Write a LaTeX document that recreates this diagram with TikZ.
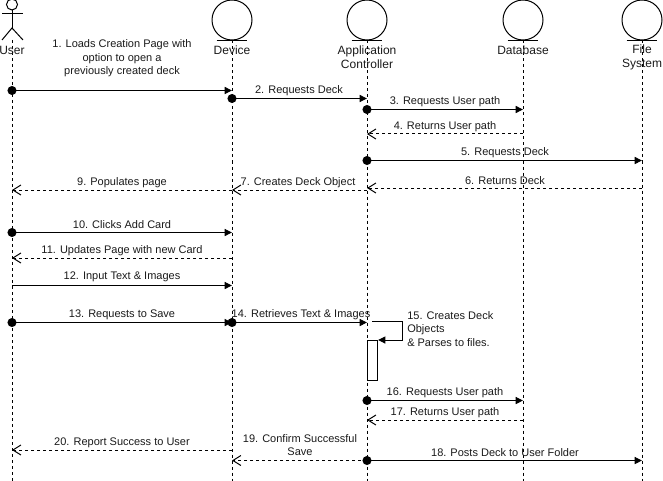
\documentclass[tikz,border=0pt]{standalone}
\usepackage{fontspec}
\setmainfont{Liberation Sans}
\usetikzlibrary{arrows.meta}
\definecolor{inkline}{HTML}{000000}
\definecolor{inktext}{HTML}{1A1A1A}
\tikzset{
  bound/.style={circle,draw=inkline,line width=.75pt,minimum size=30pt,inner sep=0pt},
  headlabel/.style={align=center,inner sep=0pt,text=inktext,font=\fontsize{9}{10.6}\selectfont},
  msglabel/.style={align=center,inner sep=0pt,text=inktext,font=\fontsize{8.25}{10.1}\selectfont},
  life/.style={draw=inkline,line width=.75pt,dash pattern=on 2.25pt off 2.25pt},
  msgdot/.style={circle,fill=inkline,minimum size=6.8pt,inner sep=0pt},
  msg/.style={draw=inkline,line width=.75pt,-{Triangle[length=5.6pt,width=5.4pt]}},
  back/.style={draw=inkline,line width=.75pt,dash pattern=on 2.25pt off 2.25pt,-{Straight Barb[length=6pt,width=7.5pt]}},
}
\begin{document}
\begin{tikzpicture}[x=.75pt,y=-.75pt]
  \useasboundingbox (0,0) rectangle (663,481);
  % heads
  \node[bound] (device) at (232,20) {};
  \node[bound] (appctl) at (367,20) {};
  \node[bound] (dbase) at (523,20) {};
  \node[bound] (fsys) at (642,20) {};
  \coordinate (user) at (12,40);
  \draw[line width=.75pt] (12,4.5) circle (5.5);
  \draw[line width=.75pt] (12,10)--(12,28);
  \draw[line width=.75pt] (2,14)--(23,14);
  \draw[line width=.75pt] (2,40)--(12,28)--(23,40);
  \draw[line width=.75pt] ([xshift=-11.6pt]device.south)--([xshift=11.6pt]device.south);
  \draw[line width=.75pt] ([xshift=-11.6pt]appctl.south)--([xshift=11.6pt]appctl.south);
  \draw[line width=.75pt] ([xshift=-11.6pt]dbase.south)--([xshift=11.6pt]dbase.south);
  \draw[line width=.75pt] ([xshift=-11.6pt]fsys.south)--([xshift=11.6pt]fsys.south);
  % lifelines
  \coordinate (userend) at (12,481);
  \coordinate (deviceend) at (232,481);
  \coordinate (appctlend) at (367,481);
  \coordinate (dbaseend) at (523,481);
  \coordinate (fsysend) at (642,481);
  \draw[life] (user)--(userend);
  \draw[life] (device.south)--(deviceend);
  \draw[life] (appctl.south)--(appctlend);
  \draw[life] (dbase.south)--(dbaseend);
  \draw[life] (fsys.south)--(fsysend);
  \node[headlabel] (tuser) at (12,50) {User};
  \node[headlabel] (tdevice) at (232,50) {Device};
  \node[headlabel] (tappctl) at (367,57) {Application\\Controller};
  \node[headlabel] (tdbase) at (523,50) {Database};
  \node[headlabel] (tfsys) at (642,57) {File\\System};
  % dots
  \node[msgdot] (d1) at (12,90.5) {};
  \node[msgdot] (d2) at (232,98.5) {};
  \node[msgdot] (d3) at (367,109.5) {};
  \node[msgdot] (d5) at (367,160.5) {};
  \node[msgdot] (d10) at (12,232.5) {};
  \node[msgdot] (d13) at (12,322.5) {};
  \node[msgdot] (d14) at (232,322.5) {};
  \node[msgdot] (d16) at (367,400.5) {};
  \node[msgdot] (d18) at (367,460.5) {};
  % free ends
  \coordinate (e1) at (232,90.5);
  \coordinate (e2) at (367,98.5);
  \coordinate (e3) at (523,109.5);
  \coordinate (s4) at (523,134);
  \coordinate (e4) at (367,134);
  \coordinate (e5) at (642,160.5);
  \coordinate (s6) at (642,188);
  \coordinate (e6) at (367,188);
  \coordinate (s7) at (367,190);
  \coordinate (e7) at (232,190);
  \coordinate (s9) at (232,190);
  \coordinate (e9) at (12,190);
  \coordinate (e10) at (232,232.5);
  \coordinate (s11) at (232,258);
  \coordinate (e11) at (12,258);
  \coordinate (s12) at (12,285.5);
  \coordinate (e12) at (232,285.5);
  \coordinate (e13) at (232,322.5);
  \coordinate (e14) at (367,322.5);
  \coordinate (s15) at (372,321);
  \coordinate (e15) at (378,340);
  \coordinate (e16) at (523,400.5);
  \coordinate (s17) at (523,420);
  \coordinate (e17) at (367,420);
  \coordinate (e18) at (642,460.5);
  \coordinate (e19) at (232,460.5);
  \coordinate (s20) at (232,450);
  \coordinate (e20) at (12,450);
  % activation
  \node[draw=inkline,line width=.75pt,fill=white,minimum width=7.5pt,minimum height=30pt,inner sep=0pt] (actbox) at (372,360) {};
  % messages
  \draw[msg] (d1.center)--(e1);
  \draw[msg] (d2.center)--(e2);
  \draw[msg] (d3.center)--(e3);
  \draw[back] (s4)--(e4);
  \draw[msg] (d5.center)--(e5);
  \draw[back] (s6)--(e6);
  \draw[back] (s7)--(e7);
  \draw[back] (s9)--(e9);
  \draw[msg] (d10.center)--(e10);
  \draw[back] (s11)--(e11);
  \draw[msg] (s12)--(e12);
  \draw[msg] (d13.center)--(e13);
  \draw[msg] (d14.center)--(e14);
  \draw[msg] (s15)--(402,321)--(402,340)--(e15);
  \draw[msg] (d16.center)--(e16);
  \draw[back] (s17)--(e17);
  \draw[msg] (d18.center)--(e18);
  \draw[back] (d18.center)--(e19);
  \draw[back] (s20)--(e20);
  % labels
  \node[msglabel] (l1) at (122,58.5) {1. Loads Creation Page with\\option to open a\\ previously created deck};
  \node[msglabel] (l2) at (299,90.5) {2. Requests Deck};
  \node[msglabel] (l3) at (445,101.5) {3. Requests User path};
  \node[msglabel] (l4) at (445,126.5) {4. Returns User path};
  \node[msglabel] (l5) at (505,152.5) {5. Requests Deck};
  \node[msglabel] (l6) at (505,180.5) {6. Returns Deck};
  \node[msglabel] (l7) at (298,182.5) {7. Creates Deck Object};
  \node[msglabel] (l9) at (122,182.5) {9. Populates page};
  \node[msglabel] (l10) at (122,224.5) {10. Clicks Add Card};
  \node[msglabel] (l11) at (122,250.5) {11. Updates Page with new Card};
  \node[msglabel] (l12) at (122,276.5) {12. Input Text \& Images};
  \node[msglabel] (l13) at (122,314.5) {13. Requests to Save};
  \node[msglabel] (l14) at (301,314.5) {14. Retrieves Text \& Images};
  \node[msglabel,align=left,anchor=west] (l15) at (407,329) {15. Creates Deck\\Objects\\\& Parses to files.};
  \node[msglabel] (l16) at (445,392.5) {16. Requests User path};
  \node[msglabel] (l17) at (445,412.5) {17. Returns User path};
  \node[msglabel] (l18) at (505,452.5) {18. Posts Deck to User Folder};
  \node[msglabel] (l19) at (300,445) {19. Confirm Successful\\Save};
  \node[msglabel] (l20) at (122,442.5) {20. Report Success to User};
\end{tikzpicture}
\end{document}
